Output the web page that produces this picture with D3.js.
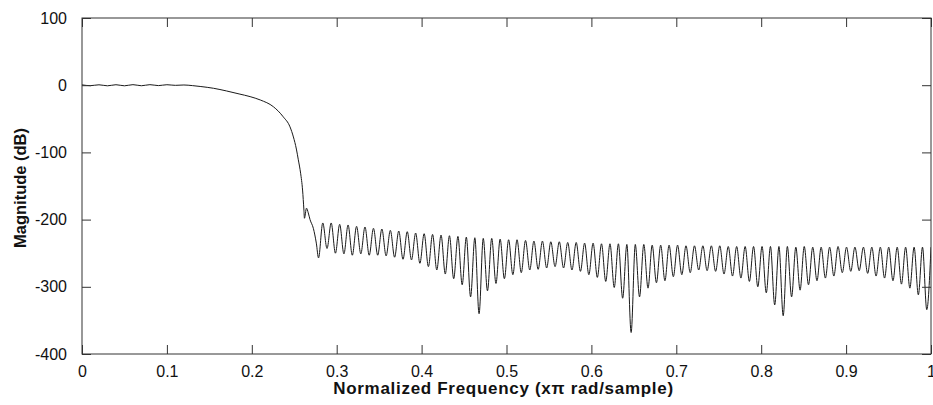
<!DOCTYPE html>
<html><head><meta charset="utf-8">
<script src="https://cdn.jsdelivr.net/npm/d3@7"></script>
<style>html,body{margin:0;padding:0;background:#fff;} svg{display:block;}</style>
</head><body><svg id="c" width="933" height="405"></svg>
<script>
// ---- data ----
const xTicks = [0, 0.1, 0.2, 0.3, 0.4, 0.5, 0.6, 0.7, 0.8, 0.9, 1];
const xTickLabels = ["0", "0.1", "0.2", "0.3", "0.4", "0.5", "0.6", "0.7", "0.8", "0.9", "1"];
const yTicks = [-400, -300, -200, -100, 0, 100];
const yTickLabels = ["-400", "-300", "-200", "-100", "0", "100"];
const xLabel = "Normalized Frequency (x\u03c0 rad/sample)";
const yLabel = "Magnitude (dB)";

// passband and transition band (frequency, dB)
const passFreq = [0, 0.01, 0.02, 0.03, 0.04, 0.05, 0.06, 0.07, 0.08, 0.09, 0.10, 0.11, 0.12, 0.13, 0.14, 0.155, 0.17, 0.185, 0.198, 0.21, 0.2254, 0.237, 0.245, 0.249, 0.2525, 0.2548, 0.2575, 0.2598, 0.2614, 0.2620, 0.2644, 0.2665, 0.2686, 0.2725, 0.2760];
const passDb = [0.5, -0.7, 0.6, -0.9, 0.7, -0.9, 0.8, -0.8, 0.8, -0.6, 0.7, -0.2, 0.3, -0.6, -2, -4.6, -8.5, -13, -17, -22, -32, -47, -62, -77, -95, -111, -131, -156, -186, -198, -183, -190, -200, -213, -235];

// stopband nulls (frequency, dB)
const nullFreq = [0.2786, 0.2886, 0.2985, 0.3085, 0.3184, 0.3284, 0.3383, 0.3483, 0.3582, 0.3682,
  0.3781, 0.3881, 0.3980, 0.4080, 0.4179, 0.4279, 0.4378, 0.4478, 0.4577, 0.4677,
  0.4776, 0.4876, 0.4975, 0.5075, 0.5174, 0.5274, 0.5373, 0.5473, 0.5572, 0.5672,
  0.5771, 0.5871, 0.5970, 0.6070, 0.6169, 0.6269, 0.6368, 0.6468, 0.6567, 0.6667,
  0.6766, 0.6866, 0.6965, 0.7065, 0.7164, 0.7264, 0.7363, 0.7463, 0.7562, 0.7662,
  0.7761, 0.7861, 0.7960, 0.8060, 0.8159, 0.8259, 0.8358, 0.8458, 0.8557, 0.8657,
  0.8756, 0.8856, 0.8955, 0.9055, 0.9154, 0.9254, 0.9353, 0.9453, 0.9552, 0.9652,
  0.9751, 0.9851, 0.9950];
const nullDb = [-257, -243, -250, -251, -253, -251, -253, -253, -254, -256,
  -259, -260, -265, -270, -275, -281, -288, -297, -315, -340,
  -306, -295, -288, -282, -279, -275, -274, -272, -270, -272,
  -275, -277, -282, -286, -292, -301, -317, -368, -315, -302,
  -294, -291, -285, -282, -279, -275, -276, -277, -281, -284,
  -287, -292, -300, -309, -327, -343, -315, -305, -297, -291,
  -287, -284, -279, -277, -276, -280, -284, -287, -291, -296,
  -302, -312, -334];

// stopband lobe peaks (frequency, dB)
const peakFreq = [0.2836, 0.2935, 0.3035, 0.3134, 0.3234, 0.3333, 0.3433, 0.3532, 0.3632, 0.3731,
  0.3831, 0.3930, 0.4030, 0.4129, 0.4229, 0.4328, 0.4428, 0.4527, 0.4627, 0.4726,
  0.4826, 0.4925, 0.5025, 0.5124, 0.5224, 0.5323, 0.5423, 0.5522, 0.5622, 0.5721,
  0.5821, 0.5920, 0.6020, 0.6119, 0.6219, 0.6318, 0.6418, 0.6517, 0.6617, 0.6716,
  0.6816, 0.6915, 0.7015, 0.7114, 0.7214, 0.7313, 0.7413, 0.7512, 0.7612, 0.7711,
  0.7811, 0.7910, 0.8010, 0.8109, 0.8209, 0.8308, 0.8408, 0.8507, 0.8607, 0.8706,
  0.8806, 0.8905, 0.9005, 0.9104, 0.9204, 0.9303, 0.9403, 0.9502, 0.9602, 0.9701,
  0.9801, 0.9900, 1.0000];
const peakDb = [-205, -205, -207, -208, -210, -211, -213, -214, -216, -217,
  -218, -220, -221, -222, -223, -224, -225, -226, -227, -228,
  -228, -229, -230, -230, -231, -232, -232, -233, -233, -234,
  -234, -235, -235, -236, -236, -236, -237, -237, -237, -238,
  -238, -238, -238, -239, -239, -239, -239, -239, -240, -240,
  -240, -240, -240, -240, -240, -240, -241, -240, -241, -241,
  -241, -240, -241, -241, -241, -241, -241, -241, -241, -241,
  -241, -241, -241];

// ---- layout ----
const W = 933, H = 405;
const m = {left: 82, right: 2, top: 18, bottom: 51};
const pw = W - m.left - m.right, ph = H - m.top - m.bottom;
const svg = d3.select("#c");
const x = d3.scaleLinear().domain([0, 1]).range([m.left, m.left + pw]);
const y = d3.scaleLinear().domain([-400, 100]).range([m.top + ph, m.top]);

// build the series
const pts = passFreq.map((f, i) => [f, passDb[i]]);
const n = Math.min(nullFreq.length, nullDb.length, peakFreq.length, peakDb.length);
for (let k = 0; k < n; k++) {
  pts.push([nullFreq[k], nullDb[k]]);
  pts.push([peakFreq[k], peakDb[k]]);
}

svg.append("defs").append("clipPath").attr("id", "clip")
  .append("rect").attr("x", m.left).attr("y", m.top).attr("width", pw).attr("height", ph);

const line = d3.line().x(d => x(d[0])).y(d => y(d[1])).curve(d3.curveMonotoneX);
svg.append("path").datum(pts).attr("clip-path", "url(#clip)")
  .attr("d", line).attr("fill", "none").attr("stroke", "#1a1a1a").attr("stroke-width", 1);

// axes (MATLAB style box with inward ticks)
const font = "'Liberation Sans', Arial, Helvetica, sans-serif";
const axisColor = "#333";
const tl = 9;
const fmtX = d => xTickLabels[xTicks.indexOf(d)];
const fmtY = d => yTickLabels[yTicks.indexOf(d)];

function style(g) {
  g.select(".domain").remove();
  g.selectAll("line").attr("stroke", axisColor).attr("stroke-width", 1);
  g.selectAll("text").attr("font-family", font).attr("font-size", 16).attr("fill", "#111");
}
const gb = svg.append("g").attr("transform", `translate(0,${m.top + ph})`)
  .call(d3.axisBottom(x).tickValues(xTicks).tickFormat(fmtX).tickSizeInner(-tl).tickSizeOuter(0).tickPadding(12));
style(gb);
const gt = svg.append("g").attr("transform", `translate(0,${m.top})`)
  .call(d3.axisTop(x).tickValues(xTicks).tickFormat("").tickSizeInner(-tl).tickSizeOuter(0));
style(gt);
const gl = svg.append("g").attr("transform", `translate(${m.left},0)`)
  .call(d3.axisLeft(y).tickValues(yTicks).tickFormat(fmtY).tickSizeInner(-tl).tickSizeOuter(0).tickPadding(15));
style(gl);
const gr = svg.append("g").attr("transform", `translate(${m.left + pw},0)`)
  .call(d3.axisRight(y).tickValues(yTicks).tickFormat("").tickSizeInner(-tl).tickSizeOuter(0));
style(gr);

svg.append("rect").attr("x", m.left).attr("y", m.top).attr("width", pw).attr("height", ph)
  .attr("fill", "none").attr("stroke", axisColor).attr("stroke-width", 1);

svg.append("text").attr("x", m.left + pw / 2 - 3).attr("y", 394)
  .attr("text-anchor", "middle").attr("font-family", font).attr("font-weight", "bold")
  .attr("font-size", 17).attr("letter-spacing", "0.7px").attr("fill", "#111").text(xLabel);
svg.append("text").attr("transform", `translate(26,${m.top + ph / 2 + 2}) rotate(-90)`)
  .attr("text-anchor", "middle").attr("font-family", font).attr("font-weight", "bold")
  .attr("font-size", 16.5).attr("fill", "#111").text(yLabel);
</script>
</body></html>
